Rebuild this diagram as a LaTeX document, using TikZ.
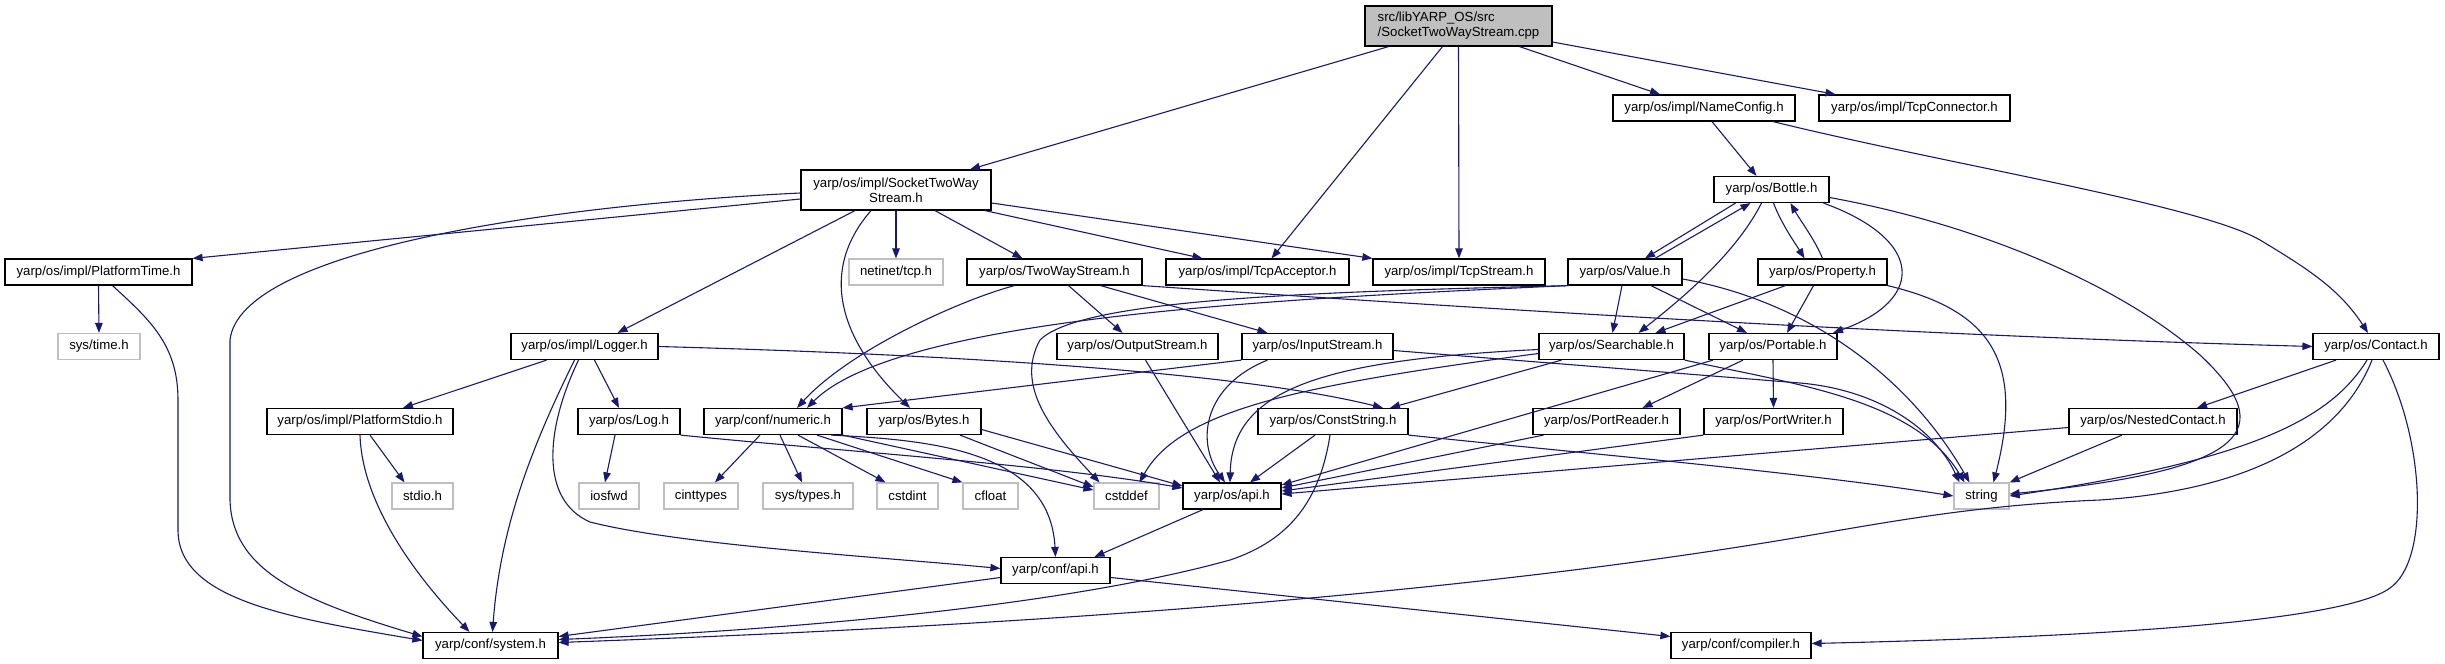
\documentclass[tikz,border=0pt]{standalone}
\usepackage{fontspec}
\setmainfont{Liberation Sans}
\usetikzlibrary{arrows.meta}
\definecolor{edgeblue}{HTML}{191970}
\definecolor{greyl}{HTML}{BFBFBF}
\tikzset{
  hdr/.style={draw=black, line width=1.2pt, fill=white, inner sep=0pt,
    minimum height=26pt, font=\fontsize{13.2pt}{15pt}\selectfont, text=black},
  syshdr/.style={hdr, draw=greyl},
  dep/.style={draw=edgeblue, line width=1.1pt,
    -{Triangle[length=10pt,width=7.5pt]}, fill=none},
}
\begin{document}
\begin{tikzpicture}[x=1pt,y=-1pt]
\fill[white] (0,0) rectangle (2445,664);
\path[use as bounding box] (0,0) rectangle (2445,664);

% nodes
\node[hdr, fill=greyl, minimum width=187pt, minimum height=40pt, align=left] (cpp) at (1458.5,26) {src/libYARP\_OS/src\\/SocketTwoWayStream.cpp};
\node[hdr, minimum width=182pt] (nameconfig) at (1704,108) {yarp/os/impl/NameConfig.h};
\node[hdr, minimum width=191pt] (tcpconn) at (1914.5,108) {yarp/os/impl/TcpConnector.h};
\node[hdr, minimum width=190pt, minimum height=40pt, align=center] (sts) at (896,190) {yarp/os/impl/SocketTwoWay\\Stream.h};
\node[hdr, minimum width=115pt] (bottle) at (1771.5,189.5) {yarp/os/Bottle.h};
\node[hdr, minimum width=187pt] (platformtime) at (98.5,272) {yarp/os/impl/PlatformTime.h};
\node[syshdr, minimum width=94pt] (netinet) at (896,272) {netinet/tcp.h};
\node[hdr, minimum width=175pt] (twoway) at (1054.5,272) {yarp/os/TwoWayStream.h};
\node[hdr, minimum width=183pt] (tcpacc) at (1257.5,272) {yarp/os/impl/TcpAcceptor.h};
\node[hdr, minimum width=172pt] (tcpstream) at (1459,272) {yarp/os/impl/TcpStream.h};
\node[hdr, minimum width=114pt] (value) at (1625,272) {yarp/os/Value.h};
\node[hdr, minimum width=129pt] (property) at (1822.5,272) {yarp/os/Property.h};
\node[syshdr, minimum width=82pt] (systime) at (99,346.5) {sys/time.h};
\node[hdr, minimum width=147pt] (logger) at (584.5,346.5) {yarp/os/impl/Logger.h};
\node[hdr, minimum width=161pt] (output) at (1137.5,346.5) {yarp/os/OutputStream.h};
\node[hdr, minimum width=151pt] (input) at (1317.5,346.5) {yarp/os/InputStream.h};
\node[hdr, minimum width=145pt] (searchable) at (1611.5,346.5) {yarp/os/Searchable.h};
\node[hdr, minimum width=128pt] (portable) at (1773,346.5) {yarp/os/Portable.h};
\node[hdr, minimum width=126pt] (contact) at (2376,346.5) {yarp/os/Contact.h};
\node[hdr, minimum width=186pt] (platformstdio) at (360,421.5) {yarp/os/impl/PlatformStdio.h};
\node[hdr, minimum width=102pt] (log) at (629,421.5) {yarp/os/Log.h};
\node[hdr, minimum width=138pt] (numeric) at (773,421.5) {yarp/conf/numeric.h};
\node[hdr, minimum width=114pt] (bytes) at (924,421.5) {yarp/os/Bytes.h};
\node[hdr, minimum width=150pt] (conststring) at (1333,421.5) {yarp/os/ConstString.h};
\node[hdr, minimum width=147pt] (portreader) at (1606.5,421.5) {yarp/os/PortReader.h};
\node[hdr, minimum width=139pt] (portwriter) at (1773.5,421.5) {yarp/os/PortWriter.h};
\node[hdr, minimum width=168pt] (nested) at (2153,421.5) {yarp/os/NestedContact.h};
\node[syshdr, minimum width=61pt] (stdio) at (422.5,496) {stdio.h};
\node[syshdr, minimum width=60pt] (iosfwd) at (609,496) {iosfwd};
\node[syshdr, minimum width=74pt] (cinttypes) at (701,496) {cinttypes};
\node[syshdr, minimum width=90pt] (systypes) at (808,496) {sys/types.h};
\node[syshdr, minimum width=61pt] (cstdint) at (907.5,496) {cstdint};
\node[syshdr, minimum width=55pt] (cfloat) at (990.5,496) {cfloat};
\node[syshdr, minimum width=65pt] (cstddef) at (1126.5,496) {cstddef};
\node[hdr, minimum width=98pt] (osapi) at (1232,496) {yarp/os/api.h};
\node[syshdr, minimum width=55pt] (string) at (1981.5,496) {string};
\node[hdr, minimum width=109pt] (confapi) at (1055.5,570.5) {yarp/conf/api.h};
\node[hdr, minimum width=135pt] (system) at (490.5,645.5) {yarp/conf/system.h};
\node[hdr, minimum width=140pt] (compiler) at (1741,645.5) {yarp/conf/compiler.h};

% cpp
\draw[dep] ([xshift=-70pt]cpp.south) -- ([xshift=74pt]sts.north);
\draw[dep] ([xshift=-16pt]cpp.south) -- ([xshift=14pt]tcpacc.north);
\draw[dep] (cpp.south) -- (tcpstream.north);
\draw[dep] ([xshift=61pt]cpp.south) -- ([xshift=-44pt]nameconfig.north);
\draw[dep] ([yshift=-16pt]cpp.east) -- ([xshift=-79pt]tcpconn.north);

% SocketTwoWayStream.h
\draw[dep] ([yshift=-9pt]sts.west) -- (platformtime.north east);
\draw[dep] ([yshift=-3pt]sts.west) .. controls (550,205) and (240,250) .. (230,340) -- (230,500) .. controls (232,570) and (300,600) .. ([yshift=9pt]system.west);
\draw[dep] ([xshift=-41pt]sts.south) -- ([xshift=33pt]logger.north);
\draw[dep] ([xshift=-25pt]sts.south) .. controls (815,275) and (845,345) .. ([xshift=-14pt]bytes.north);
\draw[dep] (sts.south) -- (netinet.north);
\draw[dep] ([xshift=39pt]sts.south) -- ([xshift=-32pt]twoway.north);
\draw[dep] ([xshift=89pt]sts.south) -- ([xshift=-55pt]tcpacc.north);
\draw[dep] ([yshift=-13pt]sts.east) -- (tcpstream.north west);

% PlatformTime.h
\draw[dep] (platformtime.south) -- (systime.north);
\draw[dep] ([xshift=14pt]platformtime.south) .. controls (150,320) and (178,345) .. (178,400) -- (178,530) .. controls (178,600) and (290,618) .. ([yshift=5pt]system.west);

% Logger.h
\draw[dep] ([xshift=-38pt]logger.south) -- ([xshift=43pt]platformstdio.north);
\draw[dep] ([xshift=10pt]logger.south) -- ([xshift=-10pt]log.north);
\draw[dep] ([xshift=-10pt]logger.south) .. controls (530,450) and (500,530) .. ([xshift=2pt]system.north);
\draw[dep] ([xshift=-6pt]logger.south) .. controls (545,430) and (540,500) .. (590,522) .. controls (680,545) and (880,557) .. ([yshift=2pt]confapi.west);
\draw[dep] (logger.east) .. controls (1000,356) and (1250,375) .. ([xshift=50pt]conststring.north);

% TwoWayStream.h
\draw[dep] ([xshift=-40pt]twoway.south) .. controls (960,300) and (850,350) .. ([xshift=24pt]numeric.north);
\draw[dep] ([xshift=14pt]twoway.south) -- ([xshift=-15pt]output.north);
\draw[dep] ([xshift=46pt]twoway.south) -- ([xshift=-50pt]input.north);
\draw[dep] (twoway.south east) .. controls (1500,310) and (1900,335) .. (contact.west);

% OutputStream.h / InputStream.h
\draw[dep] ([xshift=8pt]output.south) -- ([xshift=-12pt]osapi.north);
\draw[dep] (input.south west) -- (numeric.north east);
\draw[dep] ([xshift=-50pt]input.south) .. controls (1205,385) and (1195,440) .. ([xshift=-7pt]osapi.north);
\draw[dep] ([yshift=-4pt]input.east) -- (1800,383) .. controls (1880,390) and (1935,430) .. ([xshift=-22pt]string.north);

% Value.h
\draw[dep] ([xshift=30pt]value.north) -- ([xshift=-21pt]bottle.south);
\draw[dep] ([yshift=-7pt]value.east) .. controls (1800,300) and (1905,370) .. ([xshift=-12pt]string.north);
\draw[dep] ([xshift=-3pt]value.south) -- ([xshift=1pt]searchable.north);
\draw[dep] ([xshift=26pt]value.south) -- ([xshift=-26pt]portable.north);
\draw[dep] (value.south west) .. controls (1300,298) and (900,315) .. ([xshift=34pt]numeric.north);
\draw[dep] ([xshift=2pt]value.south west) .. controls (1300,292) and (1080,300) .. (1040,340) .. controls (1015,385) and (1050,430) .. ([xshift=-27pt]cstddef.north);

% Bottle.h
\draw[dep] ([xshift=-36pt]bottle.south) -- ([xshift=20pt]value.north);
\draw[dep] ([xshift=-10pt]bottle.south) .. controls (1735,255) and (1680,300) .. ([xshift=27pt]searchable.north);
\draw[dep] ([xshift=2pt]bottle.south) .. controls (1782,225) and (1795,243) .. ([xshift=-18pt]property.north);
\draw[dep] ([xshift=52pt]bottle.south) .. controls (1925,240) and (1925,300) .. ([xshift=60pt]portable.north);
\draw[dep] ([yshift=-8pt]bottle.east) .. controls (1980,225) and (2120,285) .. (2200,355) .. controls (2280,430) and (2250,470) .. ([yshift=2pt]string.east);

% Property.h
\draw[dep] (property.north) .. controls (1815,240) and (1800,220) .. ([xshift=19pt]bottle.south);
\draw[dep] ([xshift=-37pt]property.south) -- ([xshift=44pt]searchable.north);
\draw[dep] ([xshift=-9pt]property.south) -- ([xshift=14pt]portable.north);
\draw[dep] (property.south east) .. controls (1990,310) and (2025,360) .. ([xshift=12pt]string.north);

% NameConfig.h
\draw[dep] ([xshift=8pt]nameconfig.south) -- ([xshift=-15pt]bottle.north);
\draw[dep] ([xshift=69pt]nameconfig.south) .. controls (1950,165) and (2200,205) .. (2260,240) .. controls (2310,270) and (2340,290) .. ([xshift=-8pt]contact.north);

% Searchable.h
\draw[dep] ([xshift=-50pt]searchable.south) -- ([xshift=57pt]conststring.north);
\draw[dep] ([yshift=-3pt]searchable.west) .. controls (1320,360) and (1232,390) .. ([xshift=-2pt]osapi.north);
\draw[dep] ([yshift=-7pt]searchable.west) .. controls (1300,385) and (1180,410) .. ([xshift=13pt]cstddef.north);
\draw[dep] (searchable.south east) .. controls (1800,385) and (1915,400) .. ([xshift=-17pt]string.north);

% Portable.h
\draw[dep] ([xshift=-30pt]portable.south) -- ([xshift=36pt]portreader.north);
\draw[dep] (portable.south) -- (portwriter.north);
\draw[dep] ([xshift=-60pt]portable.south) -- ([yshift=11pt]osapi.east);

% PortReader, PortWriter, NestedContact
\draw[dep] ([xshift=-63pt]portreader.south) -- ([yshift=8pt]osapi.east);
\draw[dep] (portwriter.south west) -- ([yshift=5pt]osapi.east);
\draw[dep] ([yshift=-6pt]nested.west) -- ([yshift=2pt]osapi.east);
\draw[dep] ([xshift=-31pt]nested.south) -- (string.north east);

% Contact.h
\draw[dep] ([xshift=-40pt]contact.south) -- ([xshift=44pt]nested.north);
\draw[dep] ([xshift=-9pt]contact.south) .. controls (2330,420) and (2250,460) .. (string.east);
\draw[dep] ([xshift=-4pt]contact.south) .. controls (2340,440) and (2250,490) .. (2100,500) .. controls (1980,505) and (1900,520) .. (1800,537) .. controls (1400,605) and (900,630) .. ([yshift=3pt]system.east);
\draw[dep] ([xshift=7pt]contact.south) .. controls (2425,440) and (2430,560) .. (2390,588) .. controls (2340,625) and (2050,638) .. ([yshift=2pt]compiler.east);

% ConstString.h
\draw[dep] ([xshift=-18pt]conststring.south) -- ([xshift=18pt]osapi.north);
\draw[dep] ([xshift=-3pt]conststring.south) .. controls (1320,500) and (1290,540) .. (1230,560) .. controls (1050,610) and (750,632) .. ([yshift=6pt]system.east);
\draw[dep] (conststring.south east) .. controls (1600,455) and (1800,472) .. (string.west);

% Bytes.h
\draw[dep] ([xshift=36pt]bytes.south) -- ([yshift=9pt]cstddef.west);
\draw[dep] ([yshift=-8pt]bytes.east) -- ([yshift=10pt]osapi.west);

% numeric.h
\draw[dep] ([xshift=-13pt]numeric.south) -- ([xshift=14pt]cinttypes.north);
\draw[dep] ([xshift=7pt]numeric.south) -- ([xshift=-6pt]systypes.north);
\draw[dep] ([xshift=25pt]numeric.south) -- ([xshift=-22pt]cstdint.north);
\draw[dep] ([xshift=44pt]numeric.south) -- (cfloat.north west);
\draw[dep] (numeric.south east) -- ([yshift=6pt]cstddef.west);
\draw[dep] ([xshift=58pt]numeric.south) .. controls (930,440) and (1050,450) .. (confapi.north);

% Log.h
\draw[dep] ([xshift=-14pt]log.south) -- ([xshift=-4pt]iosfwd.north);
\draw[dep] (log.south east) .. controls (850,452) and (1050,465) .. ([yshift=8pt]osapi.west);

% api.h
\draw[dep] ([xshift=-29pt]osapi.south) -- ([xshift=39pt]confapi.north);
\draw[dep] ([yshift=-7pt]confapi.west) -- ([yshift=9pt]system.east);
\draw[dep] ([yshift=-7pt]confapi.east) -- ([yshift=9pt]compiler.west);

% PlatformStdio.h
\draw[dep] ([xshift=10pt]platformstdio.south) -- ([xshift=-18pt]stdio.north);
\draw[dep] (platformstdio.south) .. controls (362,500) and (410,570) .. ([xshift=-21pt]system.north);
\end{tikzpicture}
\end{document}
